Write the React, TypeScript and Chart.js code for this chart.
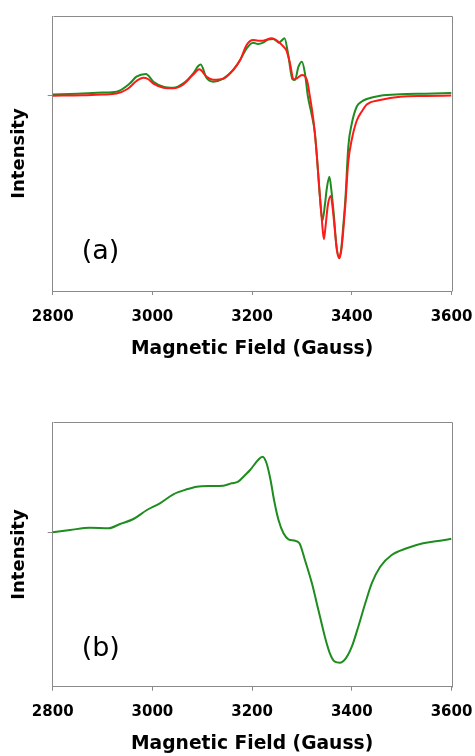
import React, { useEffect, useRef } from "react";
import { Chart, registerables } from "chart.js";

Chart.register(...registerables);

// ---------- data ----------
const xTicks = [2800, 3000, 3200, 3400, 3600];

// Panel (a) red trace
const fieldRedA = [2800, 2860, 2900, 2928, 2950, 2968, 2982, 2991, 3002, 3022, 3042, 3062, 3082, 3094, 3109, 3122, 3142, 3162, 3176, 3189, 3202, 3212, 3222, 3239, 3253, 3263, 3269, 3276, 3283, 3290, 3300, 3310, 3316, 3323, 3330, 3336, 3340, 3344, 3347, 3352, 3358, 3362, 3366, 3370, 3375, 3379, 3383, 3387, 3393, 3400, 3410, 3420, 3430, 3457, 3497, 3547, 3600];
const redA = [-0.2, 0.2, 1.0, 2.0, 6.5, 14.5, 17.8, 16.5, 11.8, 7.8, 7.2, 11, 21, 26.2, 18.8, 15.8, 16.8, 25.5, 35.5, 50.5, 55.5, 54.8, 54.8, 57.2, 53.8, 48.8, 44.8, 32.2, 16.2, 17.2, 20.5, 15.5, -1.2, -24.5, -61, -101, -125, -143.8, -132.5, -109.5, -100.5, -114.5, -134.5, -154.5, -162.8, -154.5, -134.5, -109.5, -66, -44, -25, -16, -9, -4.5, -1.2, -0.5, 0];

// Panel (a) green trace
const fieldGreenA = [2800, 2850, 2900, 2928, 2955, 2968, 2987, 3002, 3022, 3042, 3062, 3082, 3092, 3097, 3108, 3122, 3142, 3162, 3176, 3189, 3202, 3212, 3222, 3232, 3242, 3249, 3254, 3259, 3265, 3272, 3281, 3286, 3293, 3300, 3306, 3312, 3319, 3326, 3330, 3336, 3341, 3346, 3350, 3355, 3359, 3364, 3369, 3375, 3379, 3383, 3387, 3393, 3400, 3410, 3420, 3430, 3457, 3497, 3547, 3600];
const greenA = [1.0, 1.8, 3.0, 3.8, 12.2, 18.8, 21.5, 13.8, 8.8, 7.8, 12.2, 22.2, 29.5, 31, 18, 13.8, 16.8, 25.5, 35.5, 47.2, 52.8, 51.5, 52.8, 56, 56.5, 54.5, 52.8, 54.8, 57.2, 42.2, 16.2, 15.5, 28.8, 33.8, 22.2, -1.2, -17.8, -37.5, -61, -101, -125.2, -109.5, -92.5, -81.2, -94.5, -119.5, -149.5, -161.8, -152.5, -129.5, -104.5, -51, -28, -11, -6, -3.5, -0.2, 1.2, 1.8, 2.5];

// Panel (b) green trace
const fieldB = [2800, 2835, 2875, 2912, 2935, 2962, 2989, 3015, 3042, 3069, 3089, 3116, 3142, 3159, 3172, 3186, 3196, 3212, 3221, 3229, 3237, 3244, 3253, 3263, 3273, 3286, 3295, 3306, 3320, 3333, 3346, 3356, 3366, 3376, 3388, 3400, 3413, 3427, 3440, 3457, 3480, 3510, 3543, 3577, 3600];
const greenB = [0, 2.3, 4.6, 4, 8.3, 13.3, 22.3, 29, 38, 43, 45.6, 46.3, 46.6, 49, 50.6, 57.3, 62.3, 72.3, 75.6, 69, 52.3, 32.3, 12.3, -1, -7, -8.4, -11, -27.7, -51, -77.7, -104.4, -121, -129.4, -130.4, -126, -114.4, -94.4, -71, -51, -34.4, -22.7, -16, -11, -8.4, -6.5];

const xTitle = "Magnetic Field (Gauss)";
const yTitle = "Intensity";

const GRAY = "#8a8a8a";
const GREEN = "#1e8c1e";
const RED = "#ff1a1a";

type Series = { xs: number[]; ys: number[]; color: string };

type PanelProps = {
  top: number;
  height: number;
  padTop: number;
  axisHeight: number;
  yMin: number;
  yMax: number;
  series: Series[];
  label: string;
  labelDy: number;
  titlePadBottom: number;
};

function Panel(p: PanelProps) {
  const ref = useRef<HTMLCanvasElement>(null);
  useEffect(() => {
    const canvas = ref.current!;
    const framePlugin = {
      id: "frame",
      afterDraw(chart: any) {
        const { ctx, chartArea: a } = chart;
        ctx.save();
        ctx.strokeStyle = GRAY;
        ctx.lineWidth = 1;
        const l = Math.round(a.left) + 0.5;
        const t = Math.round(a.top) + 0.5;
        const r = Math.round(a.right) + 0.5;
        const b = Math.round(a.bottom) + 0.5;
        ctx.beginPath();
        ctx.moveTo(l, t);
        ctx.lineTo(r, t);
        ctx.lineTo(r, b);
        ctx.stroke();
        ctx.fillStyle = "#000";
        ctx.font = "27px 'DejaVu Sans'";
        ctx.textBaseline = "middle";
        ctx.textAlign = "left";
        ctx.fillText(p.label, a.left + 29, a.bottom - p.labelDy);
        ctx.restore();
      },
    };
    const chart = new Chart(canvas, {
      type: "line",
      data: {
        datasets: p.series.map((s) => ({
          data: s.xs.map((x, i) => ({ x, y: s.ys[i] })),
          borderColor: s.color,
          borderWidth: 2,
          pointRadius: 0,
          fill: false,
          cubicInterpolationMode: "monotone" as const,
        })),
      },
      options: {
        animation: false,
        responsive: false,
        events: [],
        layout: { padding: { top: p.padTop, right: 23.5, left: 0, bottom: 0 } },
        plugins: { legend: { display: false }, tooltip: { enabled: false } },
        scales: {
          x: {
            type: "linear",
            min: 2800,
            max: 3600,
            afterBuildTicks: (s: any) => {
              s.ticks = xTicks.map((v) => ({ value: v }));
            },
            afterFit: (s: any) => {
              s.height = p.axisHeight;
              s.paddingLeft = 0;
              s.paddingRight = 0;
            },
            ticks: {
              color: "#000",
              padding: 12.8,
              maxRotation: 0,
              autoSkip: false,
              font: { family: "'DejaVu Sans'", weight: "bold", size: 15 },
              callback: (v: any) => String(v),
            },
            grid: {
              display: true,
              drawOnChartArea: false,
              drawTicks: true,
              tickLength: 4,
              color: GRAY,
              lineWidth: 1,
            },
            border: { display: true, color: GRAY, width: 1 },
            title: {
              display: true,
              text: xTitle,
              color: "#000",
              font: { family: "'DejaVu Sans'", weight: "bold", size: 18.7 },
              padding: { top: 0, bottom: p.titlePadBottom },
            },
          },
          y: {
            type: "linear",
            min: p.yMin,
            max: p.yMax,
            afterBuildTicks: (s: any) => {
              s.ticks = [{ value: 0 }];
            },
            afterFit: (s: any) => {
              s.width = 52.7;
              s.paddingTop = 0;
              s.paddingBottom = 0;
            },
            ticks: { display: false },
            grid: {
              display: true,
              drawOnChartArea: false,
              drawTicks: true,
              tickLength: 5,
              color: GRAY,
              lineWidth: 1,
            },
            border: { display: true, color: GRAY, width: 1 },
            title: {
              display: true,
              text: yTitle,
              color: "#000",
              font: { family: "'DejaVu Sans'", weight: "bold", size: 18 },
              padding: { top: 9, bottom: 0 },
            },
          },
        },
      } as any,
      plugins: [framePlugin],
    });
    return () => chart.destroy();
  }, []);
  return (
    <canvas
      ref={ref}
      width={475}
      height={p.height}
      style={{ position: "absolute", left: 0, top: p.top, display: "block" }}
    />
  );
}

export default function App() {
  return (
    <div
      style={{
        position: "absolute",
        left: 0,
        top: 0,
        width: 475,
        height: 756,
        overflow: "hidden",
        background: "#fff",
      }}
    >
      <Panel
        top={0}
        height={378}
        padTop={16}
        axisHeight={87}
        yMin={-195.5}
        yMax={79.5}
        series={[
          { xs: fieldRedA, ys: redA, color: RED },
          { xs: fieldGreenA, ys: greenA, color: GREEN },
        ]}
        label="(a)"
        labelDy={39.5}
        titlePadBottom={17.5}
      />
      <Panel
        top={400}
        height={374}
        padTop={22.3}
        axisHeight={87.3}
        yMin={-154.4}
        yMax={110}
        series={[{ xs: fieldB, ys: greenB, color: GREEN }]}
        label="(b)"
        labelDy={37.7}
        titlePadBottom={18.8}
      />
    </div>
  );
}
